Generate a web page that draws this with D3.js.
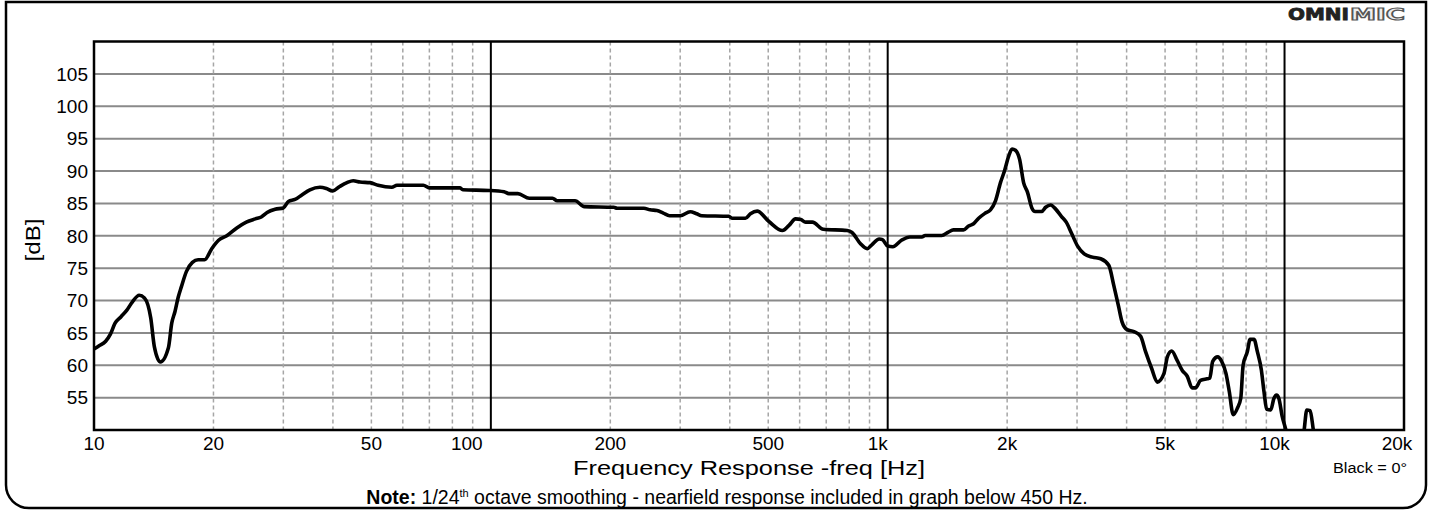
<!DOCTYPE html>
<html><head><meta charset="utf-8">
<script src="https://cdn.jsdelivr.net/npm/d3@7"></script>
<style>html,body{margin:0;padding:0;background:#fff}svg{display:block}</style>
</head><body>
<svg id="c" width="1431" height="511"></svg>
<script>
// ---- data ----
const freqs = [10,10.3,10.7,11.0,11.3,11.7,12.1,12.5,13.0,13.4,13.9,14.2,14.7,15.4,15.7,16.0,16.3,16.6,17.1,17.7,18.3,19.0,19.8,20.6,21.6,22.9,24.2,25.5,26.4,27.3,28.6,30.0,30.9,32.1,33.4,35.0,37.1,38.5,39.9,41.6,43.4,45.0,46.8,49.6,52.0,56.3,58.0,67.6,70.0,83.5,85.0,99,108,111,117,125,143,147,163,172,204,208,243,252,262,272,282,300,318,330,340,398,405,438,451,469,502,543,564,586,604,621,646,688,790,813,853,888,912,952,970,1000,1030,1083,1138,1219,1243,1368,1422,1464,1553,1599,1646,1695,1762,1815,1869,1924,1969,2018,2058,2098,2150,2200,2251,2308,2353,2444,2501,2573,2647,2739,2818,2900,3010,3127,3280,3442,3609,3714,3820,3895,4011,4171,4337,4465,4626,4780,4969,5066,5196,5367,5525,5686,5852,5966,6140,6378,6480,6592,6785,6944,7118,7257,7425,7610,7757,7864,8060,8186,8377,8541,8740,8877,9015,9226,9405,9545,9675,9865,10060,10400,11000,11206,11380,11600,11820,12100];
const spl = [62.5,63.0,63.7,64.8,66.5,67.5,68.5,69.8,70.8,70.4,67.3,62.8,60.5,62.7,66.5,68.3,70.5,72.1,74.5,75.9,76.3,76.3,78.0,79.3,80.0,81.2,82.1,82.6,82.9,83.6,84.1,84.3,85.3,85.6,86.3,87.1,87.5,87.3,86.9,87.6,88.2,88.5,88.3,88.2,87.8,87.5,87.8,87.8,87.4,87.4,87.1,87.0,86.8,86.5,86.5,85.8,85.8,85.4,85.4,84.5,84.4,84.25,84.25,84.0,83.9,83.5,83.1,83.1,83.7,83.4,83.1,83.0,82.7,82.7,83.4,83.8,82.2,80.8,81.6,82.6,82.5,82.1,82.1,81.0,80.8,80.5,78.8,78.0,78.6,79.5,79.4,78.4,78.3,79.3,79.8,79.8,80.05,80.05,80.55,80.9,80.9,81.5,81.85,82.7,83.5,84.0,85.4,88.2,90.0,92.3,93.4,93.2,91.8,88.2,86.7,84.3,83.75,83.75,84.4,84.75,84.15,83.0,82.1,80.5,78.4,77.2,76.7,76.45,75.4,72.3,69.0,66.7,65.5,65.2,64.5,62.1,59.5,57.4,58.75,61.3,62.2,60.7,59.2,58.3,56.5,56.5,57.65,57.9,58.0,60.6,61.3,60.6,58.75,55.95,52.35,53.4,54.9,60.0,62.1,64.0,64.0,62.1,59.3,55.9,53.2,53.1,54.9,55.4,54.9,52.1,50.2,46,46,50.0,53.1,53.0,50.0,46];
const yTicks = [55,60,65,70,75,80,85,90,95,100,105];
const xTickValues = [10,20,50,100,200,500,1000,2000,5000,10000,20000];
const xTickLabels = ["10","20","50","100","200","500","1k","2k","5k","10k","20k"];
const minorGrid = [20,30,40,50,60,70,80,90,200,300,400,500,600,700,800,900,2000,3000,4000,5000,6000,7000,8000,9000];
const majorGrid = [100,1000,10000];
const xTitle = "Frequency Response -freq [Hz]";
const yTitle = "[dB]";
const legendText = "Black = 0°";

// ---- layout ----
const L = 94, R = 1404, T = 41.5, B = 430;
const svg = d3.select("#c");
const x = d3.scaleLog().domain([10, 20000]).range([L, R]);
const y = d3.scaleLinear().domain([50, 110]).range([B, T]);
const FONT = "'Liberation Sans', Arial, sans-serif";

svg.append("rect").attr("width",1431).attr("height",511).attr("fill","#fff");

svg.append("defs").append("clipPath").attr("id","pc")
  .append("rect").attr("x",L).attr("y",T).attr("width",R-L).attr("height",B-T);

// horizontal grid
svg.append("g").selectAll("line").data(yTicks).join("line")
  .attr("x1",L).attr("x2",R).attr("y1",d=>y(d)).attr("y2",d=>y(d))
  .attr("stroke","#8a8a8a").attr("stroke-width",2);

// minor vertical dashed
svg.append("g").selectAll("line").data(minorGrid).join("line")
  .attr("x1",d=>x(d)).attr("x2",d=>x(d)).attr("y1",T).attr("y2",B)
  .attr("stroke","#a6a6a6").attr("stroke-width",1.5).attr("stroke-dasharray","4,3");

// major vertical
svg.append("g").selectAll("line").data(majorGrid).join("line")
  .attr("x1",d=>x(d)).attr("x2",d=>x(d)).attr("y1",T).attr("y2",B)
  .attr("stroke","#000").attr("stroke-width",2);

// curve
const pts = freqs.map((f,i)=>[f, spl[i]]);
const line = d3.line().x(d=>x(d[0])).y(d=>y(d[1])).curve(d3.curveMonotoneX);
svg.append("path").attr("clip-path","url(#pc)").attr("d", line(pts))
  .attr("fill","none").attr("stroke","#000").attr("stroke-width",3.6)
  .attr("stroke-linejoin","round").attr("stroke-linecap","round");

// plot border
svg.append("rect").attr("x",L).attr("y",T).attr("width",R-L).attr("height",B-T)
  .attr("fill","none").attr("stroke","#000").attr("stroke-width",2.5);

// y tick labels
svg.append("g").selectAll("text").data(yTicks).join("text")
  .attr("x",88).attr("y",d=>y(d)).attr("dy","0.36em").attr("text-anchor","end")
  .attr("font-family",FONT).attr("font-size",19).attr("fill","#000").text(d=>d);

// x tick labels (decade labels sit slightly left of their line, as in the source)
const shift = {"100":-24,"1k":-10,"10k":-10,"20k":-7};
svg.append("g").selectAll("text").data(xTickValues).join("text")
  .attr("x",(d,i)=>x(d)+(shift[xTickLabels[i]]||0)).attr("y",449.5).attr("text-anchor","middle")
  .attr("font-family",FONT).attr("font-size",19).attr("fill","#000").text((d,i)=>xTickLabels[i]);

// titles
svg.append("text").attr("x",749).attr("y",474.5).attr("text-anchor","middle")
  .attr("font-family",FONT).attr("font-size",21)
  .attr("textLength",352).attr("lengthAdjust","spacingAndGlyphs").text(xTitle);
svg.append("text").attr("transform","translate(40,240) rotate(-90)").attr("text-anchor","middle")
  .attr("font-family",FONT).attr("font-size",20)
  .attr("textLength",43).attr("lengthAdjust","spacingAndGlyphs").text(yTitle);
svg.append("text").attr("x",1333).attr("y",473)
  .attr("font-family",FONT).attr("font-size",14)
  .attr("textLength",74).attr("lengthAdjust","spacingAndGlyphs").text(legendText);

// note
const note = svg.append("text").attr("x",727).attr("y",504).attr("text-anchor","middle")
  .attr("font-family",FONT).attr("font-size",19.5);
note.append("tspan").attr("font-weight","bold").text("Note:");
note.append("tspan").text(" 1/24");
note.append("tspan").attr("font-size",11).attr("dy",-7).text("th");
note.append("tspan").attr("dy",7).text(" octave smoothing - nearfield response included in graph below 450 Hz.");

// logo
svg.append("text").attr("x",1288).attr("y",19.5).attr("font-family","'DejaVu Sans', sans-serif")
  .attr("font-weight","bold").attr("font-size",16).attr("fill","#222").attr("stroke","#222").attr("stroke-width",0.8)
  .attr("textLength",61).attr("lengthAdjust","spacingAndGlyphs").text("OMNI");
svg.append("text").attr("x",1350).attr("y",19.5).attr("font-family","'DejaVu Sans', sans-serif")
  .attr("font-weight","bold").attr("font-size",16).attr("fill","#eee").attr("stroke","#555").attr("stroke-width",1.2)
  .attr("textLength",55).attr("lengthAdjust","spacingAndGlyphs").text("MIC");

// outer frame
svg.append("path")
  .attr("d","M6,2 L1426,2 L1426,485 A23,23 0 0 1 1403,508 L29,508 A23,23 0 0 1 6,485 Z")
  .attr("fill","none").attr("stroke","#000").attr("stroke-width",2.5);
</script>
</body></html>
